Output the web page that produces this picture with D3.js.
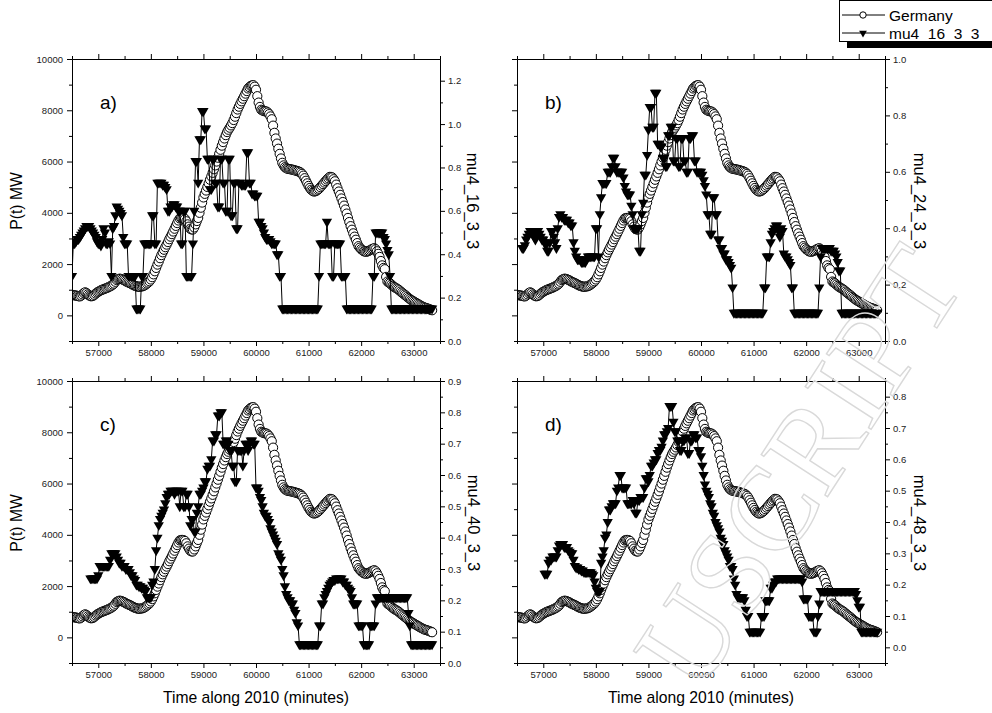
<!DOCTYPE html>
<html>
<head>
<meta charset="utf-8">
<script src="https://cdn.jsdelivr.net/npm/d3@7"></script>
<style>
  body { margin: 0; background: #fff; }
  svg { display: block; }
  text { font-family: "Liberation Sans", Arial, sans-serif; }
</style>
</head>
<body>
<svg width="992" height="713"></svg>
<script>
// sampling times (minutes along 2010), one row per 500 min
const times = [
  56500,56525,56550,56575,56600,56625,56650,56675,56700,56725,56750,56775,56800,56825,56850,56875,56900,56925,56950,56975,
  57000,57025,57050,57075,57100,57125,57150,57175,57200,57225,57250,57275,57300,57325,57350,57375,57400,57425,57450,57475,
  57500,57525,57550,57575,57600,57625,57650,57675,57700,57725,57750,57775,57800,57825,57850,57875,57900,57925,57950,57975,
  58000,58025,58050,58075,58100,58125,58150,58175,58200,58225,58250,58275,58300,58325,58350,58375,58400,58425,58450,58475,
  58500,58525,58550,58575,58600,58625,58650,58675,58700,58725,58750,58775,58800,58825,58850,58875,58900,58925,58950,58975,
  59000,59025,59050,59075,59100,59125,59150,59175,59200,59225,59250,59275,59300,59325,59350,59375,59400,59425,59450,59475,
  59500,59525,59550,59575,59600,59625,59650,59675,59700,59725,59750,59775,59800,59825,59850,59875,59900,59925,59950,59975,
  60000,60025,60050,60075,60100,60125,60150,60175,60200,60225,60250,60275,60300,60325,60350,60375,60400,60425,60450,60475,
  60500,60525,60550,60575,60600,60625,60650,60675,60700,60725,60750,60775,60800,60825,60850,60875,60900,60925,60950,60975,
  61000,61025,61050,61075,61100,61125,61150,61175,61200,61225,61250,61275,61300,61325,61350,61375,61400,61425,61450,61475,
  61500,61525,61550,61575,61600,61625,61650,61675,61700,61725,61750,61775,61800,61825,61850,61875,61900,61925,61950,61975,
  62000,62025,62050,62075,62100,62125,62150,62175,62200,62225,62250,62275,62300,62325,62350,62375,62400,62425,62450,62475,
  62500,62525,62550,62575,62600,62625,62650,62675,62700,62725,62750,62775,62800,62825,62850,62875,62900,62925,62950,62975,
  63000,63025,63050,63075,63100,63125,63150,63175,63200,63225,63250,63275,63300,63325,63350
];

// P(t) MW, Germany
const germany = [
  800,790,780,770,760,745,740,770,820,870,900,870,820,780,750,745,760,800,850,890,
  920,950,980,1000,1020,1040,1060,1080,1110,1130,1160,1200,1240,1310,1380,1410,1430,1425,1410,1385,
  1360,1330,1300,1280,1260,1230,1200,1175,1150,1135,1120,1115,1120,1130,1140,1165,1200,1240,1280,1330,
  1400,1490,1600,1720,1850,1980,2100,2230,2350,2460,2560,2660,2760,2860,2970,3070,3170,3270,3380,3490,
  3600,3700,3780,3800,3800,3790,3760,3670,3550,3460,3380,3350,3350,3430,3550,3680,3800,4000,4200,4400,
  4600,4740,4870,5010,5150,5290,5420,5560,5700,5850,6000,6150,6300,6460,6620,6760,6900,7030,7150,7240,
  7320,7410,7500,7620,7750,7890,8030,8140,8250,8350,8450,8550,8650,8750,8850,8900,8950,8970,8980,8920,
  8800,8550,8300,8130,8020,7990,7970,7960,7950,7910,7850,7760,7650,7400,7120,6900,6700,6500,6300,6120,
  5950,5850,5780,5740,5720,5710,5700,5690,5680,5665,5650,5635,5620,5600,5570,5520,5450,5350,5250,5150,
  5050,4970,4900,4860,4830,4840,4860,4900,4940,5000,5060,5120,5180,5240,5300,5350,5400,5400,5380,5310,
  5230,5100,4960,4830,4700,4560,4420,4280,4130,3970,3800,3640,3480,3340,3200,3070,2950,2820,2700,2640,
  2580,2540,2500,2490,2480,2500,2520,2550,2580,2600,2620,2580,2500,2400,2280,2120,1950,1850,1800,1500,
  1320,1280,1250,1200,1150,1110,1080,1050,1020,980,930,890,850,810,770,720,680,640,600,570,
  540,510,480,450,420,390,360,335,310,295,280,260,240,220,200
];

const mu4_16 = [
  0.30,0.45,0.45,0.46,0.47,0.47,0.48,0.49,0.50,0.51,0.52,0.53,0.53,0.53,0.52,0.51,0.50,0.49,0.48,0.46,
  0.45,0.45,0.44,0.47,0.52,0.50,0.45,0.45,0.46,0.45,0.30,0.52,0.53,0.58,0.62,0.61,0.60,0.59,0.58,0.48,
  0.45,0.45,0.45,0.30,0.30,0.30,0.30,0.30,0.30,0.15,0.15,0.15,0.15,0.30,0.30,0.45,0.45,0.45,0.45,0.45,
  0.45,0.58,0.58,0.45,0.45,0.73,0.73,0.73,0.73,0.72,0.72,0.71,0.70,0.60,0.60,0.62,0.62,0.63,0.63,0.62,
  0.62,0.60,0.60,0.45,0.45,0.60,0.60,0.30,0.30,0.30,0.30,0.30,0.45,0.60,0.83,0.83,0.73,0.93,0.93,1.06,
  1.06,0.98,0.98,0.84,0.84,0.70,0.70,0.84,0.84,0.73,0.73,0.62,0.62,0.84,0.84,0.73,0.73,0.60,0.60,0.84,
  0.84,0.58,0.58,0.73,0.73,0.52,0.52,0.73,0.73,0.72,0.72,0.72,0.72,0.87,0.87,0.73,0.73,0.68,0.68,0.67,
  0.67,0.67,0.55,0.55,0.53,0.52,0.50,0.48,0.47,0.47,0.47,0.46,0.45,0.45,0.45,0.45,0.40,0.40,0.30,0.30,
  0.15,0.15,0.15,0.15,0.15,0.15,0.15,0.15,0.15,0.15,0.15,0.15,0.15,0.15,0.15,0.15,0.15,0.15,0.15,0.15,
  0.15,0.15,0.15,0.15,0.15,0.15,0.15,0.15,0.30,0.45,0.45,0.45,0.45,0.45,0.55,0.45,0.45,0.45,0.30,0.30,
  0.45,0.45,0.45,0.45,0.45,0.30,0.30,0.30,0.30,0.15,0.15,0.15,0.15,0.15,0.15,0.15,0.15,0.15,0.15,0.15,
  0.15,0.15,0.15,0.15,0.15,0.15,0.15,0.15,0.15,0.30,0.30,0.50,0.50,0.50,0.50,0.50,0.50,0.48,0.47,0.45,
  0.42,0.40,0.30,0.15,0.15,0.15,0.15,0.15,0.15,0.15,0.15,0.15,0.15,0.15,0.15,0.15,0.15,0.15,0.15,0.15,
  0.15,0.15,0.15,0.15,0.15,0.15,0.15,0.15,0.15,0.15,0.15,0.15,0.15,0.15,0.15
];

const mu4_24 = [
  null,null,null,null,0.33,0.33,0.34,0.36,0.37,0.38,0.39,0.39,0.38,0.37,0.36,0.38,0.39,0.38,0.37,0.36,
  0.36,0.35,0.34,0.32,0.32,0.35,0.39,0.39,0.37,0.35,0.33,0.40,0.44,0.45,0.44,0.44,0.43,0.43,0.43,0.42,
  0.42,0.41,0.41,0.35,0.32,0.30,0.29,0.29,0.29,0.28,0.28,0.28,0.28,0.29,0.30,0.30,0.30,0.30,0.30,0.30,
  0.40,0.40,0.30,0.45,0.51,0.56,0.56,0.56,0.56,0.60,0.60,0.60,0.62,0.65,0.65,0.62,0.60,0.60,0.60,0.60,
  0.60,0.58,0.55,0.53,0.52,0.52,0.52,0.48,0.45,0.40,0.40,0.40,0.40,0.32,0.32,0.45,0.49,0.59,0.59,0.66,
  0.75,0.83,0.83,0.76,0.76,0.88,0.88,0.70,0.70,0.69,0.69,0.65,0.65,0.62,0.62,0.73,0.73,0.76,0.76,0.64,
  0.64,0.72,0.72,0.62,0.62,0.72,0.72,0.64,0.64,0.60,0.60,0.72,0.72,0.73,0.73,0.64,0.64,0.60,0.60,0.60,
  0.60,0.59,0.57,0.55,0.52,0.45,0.45,0.38,0.38,0.51,0.51,0.45,0.45,0.36,0.36,0.33,0.33,0.31,0.31,0.29,
  0.29,0.28,0.27,0.26,0.19,0.10,0.10,0.10,0.10,0.10,0.10,0.10,0.10,0.10,0.10,0.10,0.10,0.10,0.10,0.10,
  0.10,0.10,0.10,0.10,0.10,0.10,0.10,0.10,0.19,0.19,0.30,0.30,0.30,0.35,0.38,0.39,0.40,0.41,0.41,0.39,
  0.37,0.40,0.39,0.31,0.30,0.30,0.29,0.28,0.27,0.19,0.19,0.10,0.10,0.10,0.10,0.10,0.10,0.10,0.10,0.10,
  0.10,0.10,0.10,0.10,0.10,0.10,0.10,0.10,0.10,0.10,0.19,0.30,0.33,0.33,0.33,0.33,0.33,0.33,0.33,0.32,
  0.32,0.32,0.31,0.30,0.28,0.25,0.25,0.10,0.10,0.10,0.10,0.10,0.10,0.10,0.10,0.10,0.10,0.10,0.10,0.10,
  0.10,0.10,0.10,0.10,0.10,0.10,0.10,0.10,0.10,0.10,0.10,0.10,0.10,0.10,0.10
];

const mu4_40 = [
  null,null,null,null,null,null,null,null,null,null,null,null,null,null,0.27,0.27,0.27,0.27,0.27,0.27,
  0.28,0.31,0.31,0.31,0.31,0.31,0.31,0.31,0.31,0.33,0.35,0.35,0.35,0.35,0.34,0.33,0.32,0.32,0.31,0.31,
  0.31,0.30,0.30,0.30,0.29,0.28,0.28,0.27,0.265,0.25,0.25,0.245,0.245,0.24,0.24,0.235,0.23,0.21,0.21,0.21,
  0.21,0.25,0.26,0.30,0.36,0.40,0.44,0.46,0.47,0.48,0.49,0.51,0.53,0.54,0.54,0.55,0.55,0.55,0.54,0.55,
  0.55,0.55,0.50,0.55,0.55,0.50,0.50,0.54,0.54,0.50,0.44,0.46,0.46,0.42,0.42,0.48,0.50,0.54,0.54,0.55,
  0.56,0.58,0.58,0.62,0.63,0.63,0.65,0.71,0.71,0.73,0.73,0.79,0.79,0.80,0.80,0.70,0.70,0.71,0.71,0.70,
  0.68,0.68,0.63,0.63,0.58,0.58,0.68,0.68,0.68,0.68,0.63,0.68,0.70,0.70,0.68,0.70,0.71,0.71,0.70,0.70,
  0.56,0.56,0.55,0.53,0.52,0.50,0.48,0.47,0.47,0.46,0.45,0.43,0.42,0.41,0.40,0.39,0.38,0.35,0.34,0.33,
  0.30,0.28,0.245,0.22,0.21,0.20,0.20,0.19,0.19,0.17,0.16,0.13,0.12,0.06,0.06,0.06,0.06,0.06,0.06,0.06,
  0.06,0.06,0.06,0.06,0.06,0.06,0.06,0.06,0.12,0.12,0.19,0.19,0.21,0.22,0.23,0.24,0.25,0.255,0.26,0.265,
  0.265,0.27,0.27,0.27,0.27,0.27,0.26,0.26,0.25,0.25,0.24,0.235,0.23,0.21,0.19,0.19,0.19,0.19,0.12,0.12,
  0.12,0.12,0.06,0.06,0.06,0.06,0.06,0.12,0.12,0.12,0.12,0.19,0.21,0.21,0.21,0.21,0.21,0.21,0.21,0.21,
  0.21,0.21,0.21,0.21,0.21,0.21,0.21,0.21,0.21,0.21,0.21,0.21,0.21,0.21,0.21,0.21,0.16,0.12,0.06,0.06,
  0.06,0.06,0.06,0.06,0.06,0.06,0.06,0.06,0.06,0.06,0.06,0.06,0.06,0.06,0.06
];

const mu4_48 = [
  null,null,null,null,null,null,null,null,null,null,null,null,null,null,null,null,null,null,null,null,
  null,0.235,0.235,0.235,0.27,0.28,0.28,0.29,0.29,0.29,0.29,0.31,0.325,0.33,0.33,0.33,0.32,0.32,0.32,0.31,
  0.305,0.30,0.30,0.28,0.26,0.255,0.255,0.25,0.25,0.245,0.245,0.24,0.24,0.24,0.24,0.24,0.24,0.235,0.23,0.21,
  0.19,0.18,0.18,0.18,0.27,0.29,0.31,0.35,0.36,0.40,0.44,0.44,0.45,0.46,0.46,0.46,0.50,0.51,0.55,0.55,
  0.51,0.51,0.51,0.51,0.46,0.46,0.46,0.46,0.47,0.46,0.43,0.43,0.47,0.47,0.48,0.48,0.48,0.51,0.54,0.54,
  0.53,0.55,0.58,0.58,0.59,0.60,0.60,0.62,0.63,0.63,0.64,0.66,0.68,0.68,0.69,0.70,0.77,0.77,0.77,0.72,
  0.69,0.69,0.66,0.66,0.63,0.63,0.66,0.66,0.67,0.67,0.62,0.62,0.66,0.66,0.68,0.68,0.67,0.67,0.63,0.63,
  0.61,0.58,0.55,0.52,0.50,0.49,0.48,0.46,0.45,0.43,0.42,0.40,0.39,0.38,0.37,0.35,0.34,0.33,0.31,0.30,
  0.29,0.28,0.26,0.26,0.25,0.22,0.20,0.17,0.16,0.16,0.16,0.16,0.16,0.15,0.12,0.10,0.10,0.05,0.05,0.05,
  0.05,0.05,0.05,0.05,0.05,0.05,0.10,0.10,0.10,0.15,0.15,0.15,0.15,0.19,0.19,0.20,0.21,0.21,0.22,0.22,
  0.22,0.22,0.22,0.22,0.22,0.22,0.22,0.22,0.22,0.22,0.22,0.22,0.22,0.22,0.22,0.22,0.22,0.21,0.156,0.156,
  0.156,0.156,0.10,0.10,0.10,0.10,0.05,0.05,0.05,0.10,0.14,0.18,0.18,0.18,0.18,0.18,0.18,0.18,0.18,0.18,
  0.18,0.18,0.18,0.18,0.18,0.18,0.18,0.18,0.18,0.18,0.18,0.18,0.18,0.18,0.18,0.18,0.18,0.18,0.17,0.15,
  0.13,0.13,0.05,0.05,0.05,0.05,0.05,0.05,0.05,0.05,0.05,0.05,0.05,0.05,0.05
];

// ticks
const xMajor = [57000,58000,59000,60000,61000,62000,63000];
const xMinor = [56500,57500,58500,59500,60500,61500,62500,63500];
const leftMajor = [0,2000,4000,6000,8000,10000];
const leftMinor = [-1000,1000,3000,5000,7000,9000];
const rightMajorA = [0,0.2,0.4,0.6,0.8,1.0,1.2];
const rightMinorA = [0.1,0.3,0.5,0.7,0.9,1.1];
const rightMajorB = [0,0.2,0.4,0.6,0.8,1.0];
const rightMinorB = [0.1,0.3,0.5,0.7,0.9];
const rightMajorC = [0,0.1,0.2,0.3,0.4,0.5,0.6,0.7,0.8,0.9];
const rightMinorC = [0.05,0.15,0.25,0.35,0.45,0.55,0.65,0.75,0.85];
const rightMajorD = [0,0.1,0.2,0.3,0.4,0.5,0.6,0.7,0.8];
const rightMinorD = [-0.05,0.05,0.15,0.25,0.35,0.45,0.55,0.65,0.75,0.85];

const panels = [
  { tag: "a)", series: mu4_16, name: "mu4_16_3_3", x0: 72, y0: 59, rDomain: [0, 1.3],
    rMajor: rightMajorA, rMinor: rightMinorA, leftLabels: true, yTitle: "P(t)  MW", xTitle: false, rTitleX: 467 },
  { tag: "b)", series: mu4_24, name: "mu4_24_3_3", x0: 517, y0: 59, rDomain: [0, 1.0],
    rMajor: rightMajorB, rMinor: rightMinorB, leftLabels: false, yTitle: null, xTitle: false, rTitleX: 914 },
  { tag: "c)", series: mu4_40, name: "mu4_40_3_3", x0: 72, y0: 381, rDomain: [0, 0.9],
    rMajor: rightMajorC, rMinor: rightMinorC, leftLabels: true, yTitle: "P(t) MW", xTitle: true, rTitleX: 468 },
  { tag: "d)", series: mu4_48, name: "mu4_48_3_3", x0: 517, y0: 381, rDomain: [-0.05, 0.85],
    rMajor: rightMajorD, rMinor: rightMinorD, leftLabels: false, yTitle: null, xTitle: true, rTitleX: 914 }
];

const W = 368, H = 282;
const svg = d3.select("svg");
const tri = d3.symbol(d3.symbolTriangle, 46);
const fmt1 = d3.format(".1f");

panels.forEach((p, i) => {
  const g = svg.append("g").attr("transform", `translate(${p.x0},${p.y0})`);

  const x = d3.scaleLinear().domain([56500, 63500]).range([0, W]);
  const yL = d3.scaleLinear().domain([-1000, 10000]).range([H, 0]);
  const yR = d3.scaleLinear().domain(p.rDomain).range([H, 0]);

  g.append("clipPath").attr("id", "clip" + i)
    .append("rect").attr("width", W).attr("height", H);

  const plot = g.append("g").attr("clip-path", `url(#clip${i})`);

  const gPts = times.map((t, k) => ({ t, v: germany[k] }));
  plot.append("path")
    .datum(gPts)
    .attr("fill", "none").attr("stroke", "#000").attr("stroke-width", 1)
    .attr("d", d3.line().x(d => x(d.t)).y(d => yL(d.v)));
  plot.selectAll("circle").data(gPts).join("circle")
    .attr("cx", d => x(d.t)).attr("cy", d => yL(d.v)).attr("r", 4.6)
    .attr("fill", "#fff").attr("stroke", "#000").attr("stroke-width", 1);

  const mPts = times.map((t, k) => ({ t, v: p.series[k] })).filter(d => d.v != null);
  plot.append("path")
    .datum(mPts)
    .attr("fill", "none").attr("stroke", "#000").attr("stroke-width", 1)
    .attr("d", d3.line().x(d => x(d.t)).y(d => yR(d.v)));
  plot.selectAll("path.tri").data(mPts).join("path")
    .attr("class", "tri")
    .attr("d", tri)
    .attr("transform", d => `translate(${x(d.t)},${yR(d.v)}) rotate(180)`)
    .attr("fill", "#000");

  // axes
  const style = sel => {
    sel.selectAll("path.domain").attr("stroke", "#000");
    sel.selectAll("line").attr("stroke", "#000");
    sel.selectAll("text").attr("fill", "#222").style("font-size", "9.5px")
      .style("font-family", '"Liberation Sans", Arial, sans-serif');
  };

  g.append("g").attr("transform", `translate(0,${H})`)
    .call(d3.axisBottom(x).tickValues(xMajor).tickSize(5).tickSizeOuter(0).tickPadding(3).tickFormat(d3.format("d")))
    .call(style);
  g.append("g").attr("transform", `translate(0,${H})`)
    .call(d3.axisBottom(x).tickValues(xMinor).tickSize(3).tickSizeOuter(0).tickFormat(""))
    .call(style);
  g.append("g")
    .call(d3.axisTop(x).tickValues(xMajor).tickSize(5).tickSizeOuter(0).tickFormat(""))
    .call(style);
  g.append("g")
    .call(d3.axisTop(x).tickValues(xMinor).tickSize(3).tickSizeOuter(0).tickFormat(""))
    .call(style);

  g.append("g")
    .call(d3.axisLeft(yL).tickValues(leftMajor).tickSize(5).tickSizeOuter(0).tickPadding(4)
      .tickFormat(p.leftLabels ? d3.format("d") : ""))
    .call(style);
  g.append("g")
    .call(d3.axisLeft(yL).tickValues(leftMinor).tickSize(3).tickSizeOuter(0).tickFormat(""))
    .call(style);

  g.append("g").attr("transform", `translate(${W},0)`)
    .call(d3.axisRight(yR).tickValues(p.rMajor).tickSize(5).tickSizeOuter(0).tickPadding(3).tickFormat(fmt1))
    .call(style);
  g.append("g").attr("transform", `translate(${W},0)`)
    .call(d3.axisRight(yR).tickValues(p.rMinor).tickSize(3).tickSizeOuter(0).tickFormat(""))
    .call(style);

  // panel tag
  g.append("text").attr("x", 28).attr("y", 50)
    .style("font-size", "19px").attr("fill", "#000").text(p.tag);

  // right title (reads top to bottom)
  svg.append("text")
    .attr("transform", `translate(${p.rTitleX},${p.y0 + 142}) rotate(90)`)
    .attr("text-anchor", "middle")
    .style("font-size", "16.5px").attr("fill", "#000").text(p.name);

  if (p.yTitle) {
    svg.append("text")
      .attr("transform", `translate(22,${p.y0 + 142}) rotate(-90)`)
      .attr("text-anchor", "middle")
      .style("font-size", "15.7px").attr("fill", "#000").text(p.yTitle);
  }
  if (p.xTitle) {
    svg.append("text")
      .attr("x", p.x0 + W / 2).attr("y", 703)
      .attr("text-anchor", "middle")
      .style("font-size", "15.7px").attr("fill", "#000").text("Time along 2010 (minutes)");
  }
});

// legend
const leg = svg.append("g");
leg.append("rect").attr("x", 847).attr("y", 41).attr("width", 160).attr("height", 7).attr("fill", "#000");
leg.append("rect").attr("x", 839.5).attr("y", 0.5).attr("width", 170).attr("height", 41)
  .attr("fill", "#fff").attr("stroke", "#000").attr("stroke-width", 1);
leg.append("line").attr("x1", 842).attr("x2", 885).attr("y1", 15).attr("y2", 15).attr("stroke", "#000");
leg.append("circle").attr("cx", 863).attr("cy", 15).attr("r", 3.2)
  .attr("fill", "#fff").attr("stroke", "#000");
leg.append("text").attr("x", 889).attr("y", 21).style("font-size", "15.5px").text("Germany");
leg.append("line").attr("x1", 842).attr("x2", 885).attr("y1", 33).attr("y2", 33).attr("stroke", "#000");
leg.append("path").attr("d", d3.symbol(d3.symbolTriangle, 26))
  .attr("transform", "translate(863,33) rotate(180)").attr("fill", "#000");
leg.append("text").attr("x", 889).attr("y", 38.5).style("font-size", "15.5px").text("mu4_16_3_3");

// faint outlined watermark across the lower right
svg.append("text")
  .attr("transform", "translate(698,696) rotate(-57)")
  .style("font-family", '"Liberation Serif", "Times New Roman", serif')
  .style("font-size", "120px").attr("fill", "none")
  .attr("stroke", "#d9d9d9").attr("stroke-width", 1.4)
  .text("USCRIPT");
</script>
</body>
</html>
